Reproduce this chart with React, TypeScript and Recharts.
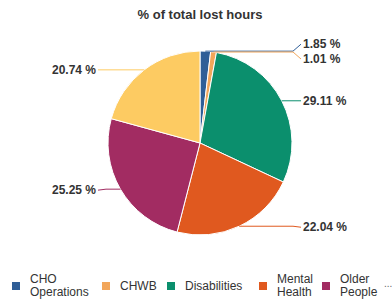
import React from 'react';
import { PieChart, Pie, Cell, Legend } from 'recharts';

const categories = ['CHO Operations', 'CHWB', 'Disabilities', 'Mental Health', 'Older People', 'Other'];
const lostHoursPct = [1.85, 1.01, 29.11, 22.04, 25.25, 20.74];
const sliceColors = ['#2F5E97', '#F2A65A', '#0B8F6D', '#E0591F', '#A22C62', '#FDCB62'];

// small vertical nudges so the two tiny slices' labels don't collide
const labelNudge = [-7, 7, 0, 1, 1, 0];
const legendLeft = [12, 102, 167, 259, 322];

const data = categories.map((name, i) => ({ name, value: lostHoursPct[i] }));
const RAD = Math.PI / 180;
const FONT = '"Liberation Sans", Arial, Helvetica, sans-serif';

const renderLabel = (p: any) => {
  const { cx, cy, midAngle, outerRadius, index, value } = p;
  const ex = cx + outerRadius * Math.cos(-midAngle * RAD);
  const ey = cy + outerRadius * Math.sin(-midAngle * RAD);
  const right = ex >= cx;
  const ly = ey + labelNudge[index];
  const endX = right ? cx + 101 : cx - 102;
  const bendX = right ? endX - 8 : endX + 8;
  const color = sliceColors[index];
  return (
    <g key={`lbl-${index}`}>
      <path
        d={`M${ex},${ey}L${bendX},${ey}L${endX},${ly}`}
        stroke={color}
        strokeWidth={1}
        fill="none"
      />
      <text
        x={right ? endX + 2 : endX - 2}
        y={ly}
        textAnchor={right ? 'start' : 'end'}
        dominantBaseline="central"
        fontFamily={FONT}
        fontWeight="bold"
        fontSize={12}
        fill="#333333"
      >
        {`${Number(value).toFixed(2)} %`}
      </text>
    </g>
  );
};

const renderLegend = () => (
  <div style={{ position: 'relative', width: 392, height: 32, fontFamily: FONT, fontSize: 12, color: '#333333' }}>
    {legendLeft.map((left, i) => (
      <div
        key={categories[i]}
        style={{ position: 'absolute', left, top: 2, height: 28, display: 'flex', alignItems: 'center' }}
      >
        <span style={{ width: 8, height: 8, background: sliceColors[i], marginRight: 10, flex: 'none' }} />
        <span style={{ maxWidth: 62, lineHeight: '13px' }}>{categories[i]}</span>
      </div>
    ))}
    <div style={{ position: 'absolute', left: 384, top: 8, fontSize: 10, color: '#666' }}>...</div>
  </div>
);

export default function App() {
  return (
    <div style={{ position: 'absolute', left: 0, top: 0, width: 392, height: 302, background: '#fff' }}>
      <div
        style={{
          position: 'absolute',
          left: 0,
          top: 7,
          width: 400,
          textAlign: 'center',
          fontFamily: FONT,
          fontWeight: 'bold',
          fontSize: 13,
          color: '#333333',
        }}
      >
        % of total lost hours
      </div>
      <PieChart width={392} height={302} margin={{ top: 0, right: 0, bottom: 0, left: 0 }}>
        <Pie
          data={data}
          dataKey="value"
          nameKey="name"
          cx={200}
          cy={143}
          outerRadius={92}
          startAngle={90}
          endAngle={-270}
          stroke="#ffffff"
          strokeWidth={1}
          label={renderLabel}
          labelLine={false}
          isAnimationActive={false}
        >
          {data.map((entry, index) => (
            <Cell key={`cell-${index}`} fill={sliceColors[index]} />
          ))}
        </Pie>
        <Legend
          content={renderLegend}
          wrapperStyle={{ position: 'absolute', left: 0, top: 270, width: 392, height: 32 }}
        />
      </PieChart>
    </div>
  );
}
